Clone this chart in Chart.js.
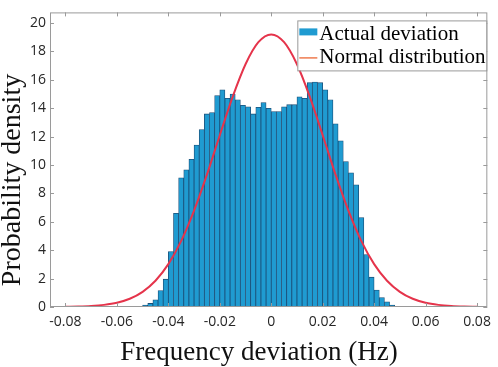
<!DOCTYPE html>
<html>
<head>
<meta charset="utf-8">
<script src="https://cdn.jsdelivr.net/npm/chart.js@4"></script>
<style>
  html, body { margin: 0; padding: 0; background: #fff; }
</style>
</head>
<body>
<canvas id="histChart" width="498" height="367"></canvas>
<script>
// histogram bins (centre of each 0.002 Hz bin) and their density
const binCenters = [
  -0.051, -0.049, -0.047, -0.045, -0.043, -0.041, -0.039, -0.037, -0.035, -0.033,
  -0.031, -0.029, -0.027, -0.025, -0.023, -0.021, -0.019, -0.017, -0.015, -0.013,
  -0.011, -0.009, -0.007, -0.005, -0.003, -0.001, 0.001, 0.003, 0.005, 0.007,
  0.009, 0.011, 0.013, 0.015, 0.017, 0.019, 0.021, 0.023, 0.025, 0.027,
  0.029, 0.031, 0.033, 0.035, 0.037, 0.039, 0.041, 0.043, 0.045, 0.047, 0.049
];
const density = [
  0.05, 0.13, 0.25, 0.5, 1.16, 1.96, 3.9, 6.6, 9.1, 9.66,
  10.4, 11.4, 12.5, 13.6, 13.7, 14.9, 15.3, 14.7, 15.0, 14.6,
  14.2, 14.1, 13.6, 14.06, 14.4, 14.0, 13.77, 13.77, 14.1, 14.25,
  14.25, 14.8, 14.7, 15.8, 15.85, 15.8, 15.3, 14.6, 12.9, 11.7,
  10.25, 9.45, 8.6, 6.3, 3.7, 2.1, 1.2, 0.66, 0.36, 0.14, 0.05
];

// fitted normal curve
const curveX = [
  -0.08, -0.075, -0.07, -0.065, -0.06, -0.055, -0.05, -0.045, -0.04, -0.035, -0.03,
  -0.025, -0.02, -0.015, -0.01, -0.005, 0, 0.005, 0.01, 0.015, 0.02, 0.025,
  0.03, 0.035, 0.04, 0.045, 0.05, 0.055, 0.06, 0.065, 0.07, 0.075, 0.08
];
const curveY = [
  0.01, 0.03, 0.07, 0.15, 0.3, 0.58, 1.07, 1.85, 3.02, 4.66, 6.79,
  9.32, 12.1, 14.8, 17.1, 18.65, 19.2, 18.65, 17.1, 14.8, 12.1, 9.32,
  6.79, 4.66, 3.02, 1.85, 1.07, 0.58, 0.3, 0.15, 0.07, 0.03, 0.01
];

const xTicks = [-0.08, -0.06, -0.04, -0.02, 0, 0.02, 0.04, 0.06, 0.08];
const yTicks = [0, 2, 4, 6, 8, 10, 12, 14, 16, 18, 20];
const seriesNames = ['Actual deviation', 'Normal distribution'];
const xTitle = 'Frequency deviation (Hz)';
const yTitle = 'Probability density';

const barColor = '#1f9bd1';
const barEdge = '#1b4f78';
const curveColor = '#e5344b';
const legendLine = '#ef7b4f';
const frameColor = '#9a9a9a';
const tickFont = { family: '"Open Sans"', size: 14 };

// box, inward ticks, axis titles and legend (matlab style)
const decorations = {
  id: 'decorations',
  afterDraw(chart) {
    const { ctx, chartArea: a, scales } = chart;
    ctx.save();
    ctx.strokeStyle = frameColor;
    ctx.lineWidth = 1;
    ctx.strokeRect(a.left + 0.5, a.top + 0.5, a.right - a.left - 1, a.bottom - a.top - 1);
    ctx.beginPath();
    xTicks.forEach(v => {
      const px = Math.round(scales.x.getPixelForValue(v)) + 0.5;
      ctx.moveTo(px, a.bottom); ctx.lineTo(px, a.bottom - 4);
      ctx.moveTo(px, a.top); ctx.lineTo(px, a.top + 4);
    });
    yTicks.forEach(v => {
      const py = Math.round(scales.y.getPixelForValue(v)) + 0.5;
      ctx.moveTo(a.left, py); ctx.lineTo(a.left + 4, py);
      ctx.moveTo(a.right, py); ctx.lineTo(a.right - 4, py);
    });
    ctx.stroke();

    // axis titles
    ctx.fillStyle = '#111';
    ctx.textAlign = 'center';
    ctx.textBaseline = 'middle';
    ctx.font = '27px "Liberation Serif"';
    ctx.fillText(xTitle, 259, 352.5);
    ctx.save();
    ctx.translate(12.5, 180);
    ctx.rotate(-Math.PI / 2);
    ctx.font = '28px "Liberation Serif"';
    ctx.fillText(yTitle, 0, 0);
    ctx.restore();

    // legend
    const lx = a.right - 190, ly = a.top + 8;
    ctx.fillStyle = '#fff';
    ctx.fillRect(lx, ly, 189, 50);
    ctx.strokeStyle = frameColor;
    ctx.strokeRect(lx + 0.5, ly + 0.5, 189, 50);
    ctx.fillStyle = barColor;
    ctx.fillRect(lx + 2, ly + 8, 18, 7);
    ctx.strokeStyle = legendLine;
    ctx.lineWidth = 1.5;
    ctx.beginPath();
    ctx.moveTo(lx + 2, ly + 37.5); ctx.lineTo(lx + 20, ly + 37.5);
    ctx.stroke();
    ctx.fillStyle = '#000';
    ctx.textAlign = 'left';
    ctx.font = '21px "Liberation Serif"';
    ctx.fillText(seriesNames[0], lx + 22, ly + 14);
    ctx.fillText(seriesNames[1], lx + 22, ly + 37);
    ctx.restore();
  }
};

new Chart(document.getElementById('histChart'), {
  type: 'bar',
  data: {
    datasets: [
      {
        type: 'bar',
        label: seriesNames[0],
        data: binCenters.map((x, i) => ({ x: x, y: density[i] })),
        backgroundColor: barColor,
        borderColor: barEdge,
        borderWidth: 0.8,
        barPercentage: 1,
        categoryPercentage: 1,
        order: 1
      },
      {
        type: 'line',
        label: seriesNames[1],
        data: curveX.map((x, i) => ({ x: x, y: curveY[i] })),
        borderColor: curveColor,
        borderWidth: 2,
        pointRadius: 0,
        cubicInterpolationMode: 'monotone',
        fill: false,
        order: 0
      }
    ]
  },
  options: {
    responsive: false,
    animation: false,
    layout: { padding: { top: 4, right: 5, left: 0, bottom: 0 } },
    plugins: { legend: { display: false }, tooltip: { enabled: false } },
    scales: {
      x: {
        type: 'linear',
        min: -0.086,
        max: 0.084,
        offset: false,
        grid: { display: false, drawTicks: false },
        border: { display: false },
        afterBuildTicks: s => { s.ticks = xTicks.map(v => ({ value: v })); },
        afterFit: s => { s.height = 60; },
        ticks: {
          font: tickFont,
          color: '#262626',
          padding: 7,
          maxRotation: 0,
          autoSkip: false,
          callback: v => String(Number(v.toFixed(2)))
        }
      },
      y: {
        min: 0,
        max: 20.75,
        grid: { display: false, drawTicks: false },
        border: { display: false },
        afterBuildTicks: s => { s.ticks = yTicks.map(v => ({ value: v })); },
        afterFit: s => { s.width = 50; },
        ticks: { font: tickFont, color: '#262626', padding: 4 }
      }
    }
  },
  plugins: [decorations]
});
</script>
</body>
</html>
